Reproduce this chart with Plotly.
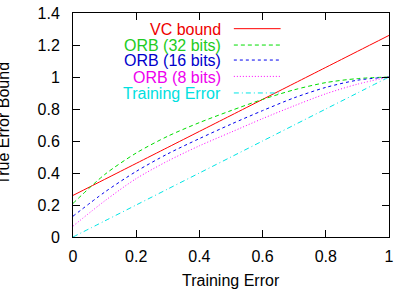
import plotly.graph_objects as go

# Data
training_error = [0.0, 0.1, 0.2, 0.3, 0.4, 0.5, 0.6, 0.7, 0.8, 0.9, 1.0]
vc_bound = [0.26, 0.36, 0.46, 0.56, 0.66, 0.76, 0.86, 0.96, 1.06, 1.16, 1.26]
orb_32 = [0.21, 0.39, 0.525, 0.63, 0.715, 0.79, 0.86, 0.92, 0.965, 0.99, 1.0]
orb_16 = [0.13, 0.28, 0.41, 0.52, 0.615, 0.705, 0.79, 0.87, 0.935, 0.98, 1.0]
orb_8 = [0.068, 0.225, 0.365, 0.475, 0.57, 0.655, 0.74, 0.82, 0.895, 0.955, 1.0]
train_err = [0.0, 0.1, 0.2, 0.3, 0.4, 0.5, 0.6, 0.7, 0.8, 0.9, 1.0]

series_names = ["VC bound", "ORB (32 bits)", "ORB (16 bits)", "ORB (8 bits)", "Training Error"]
series_values = [vc_bound, orb_32, orb_16, orb_8, train_err]
line_colors = ["#ff0000", "#00dd00", "#0000ee", "#ff00ff", "#00e5e5"]
text_colors = ["#ee0000", "#22cc22", "#0000cc", "#ee00ee", "#00e0e0"]
dashes = ["solid", "4px,3px", "3px,3px", "1px,2px", "5px,3px,1px,3px"]

FONT = "Liberation Sans, Arial, sans-serif"

fig = go.Figure()
for name, vals, col, dsh in zip(series_names, series_values, line_colors, dashes):
    fig.add_trace(go.Scatter(
        x=training_error, y=vals, mode="lines", name=name,
        line=dict(color=col, width=1, dash=dsh, shape="spline", smoothing=0.8),
        showlegend=False,
    ))

# gnuplot-style legend: right-aligned text then sample line
legend_y = [0.926, 0.853, 0.786, 0.713, 0.639]
for name, col, tcol, dsh, ly in zip(series_names, line_colors, text_colors, dashes, legend_y):
    fig.add_annotation(xref="paper", yref="paper", x=0.475, y=ly, text=name,
                       showarrow=False, xanchor="right", yanchor="middle",
                       font=dict(family=FONT, size=16, color=tcol))
    fig.add_shape(type="line", xref="paper", yref="paper", x0=0.509, x1=0.657,
                  y0=ly + 0.004, y1=ly + 0.004, line=dict(color=col, width=1, dash=dsh))

# axis titles
fig.add_annotation(xref="paper", yref="paper", x=0.5, y=-0.196, text="Training Error",
                   showarrow=False, xanchor="center", yanchor="middle",
                   font=dict(family=FONT, size=16, color="black"))
fig.add_annotation(xref="paper", yref="paper", x=-0.218, y=0.505, text="True Error Bound",
                   showarrow=False, xanchor="center", yanchor="middle", textangle=-90,
                   font=dict(family=FONT, size=16, color="black"))

axis_common = dict(
    showline=True, linecolor="black", linewidth=1, mirror="ticks",
    ticks="inside", ticklen=7, tickwidth=1, tickcolor="black",
    showgrid=False, zeroline=False,
    tickfont=dict(family=FONT, size=16, color="black"),
    ticklabeloverflow="allow",
)
fig.update_xaxes(range=[0, 1], tickvals=[0, 0.2, 0.4, 0.6, 0.8, 1],
                 ticktext=["0", "0.2", "0.4", "0.6", "0.8", "1"],
                 ticklabelstandoff=5, **axis_common)
fig.update_yaxes(range=[0, 1.4], tickvals=[0, 0.2, 0.4, 0.6, 0.8, 1, 1.2, 1.4],
                 ticktext=["0", "0.2", "0.4", "0.6", "0.8", "1", "1.2", "1.4"],
                 ticklabelstandoff=9, **axis_common)

fig.update_layout(
    width=399, height=291,
    margin=dict(l=73, r=8, t=5, b=54),
    paper_bgcolor="white", plot_bgcolor="white",
    font=dict(family=FONT, size=16, color="black"),
)

fig.write_html("out.html")
